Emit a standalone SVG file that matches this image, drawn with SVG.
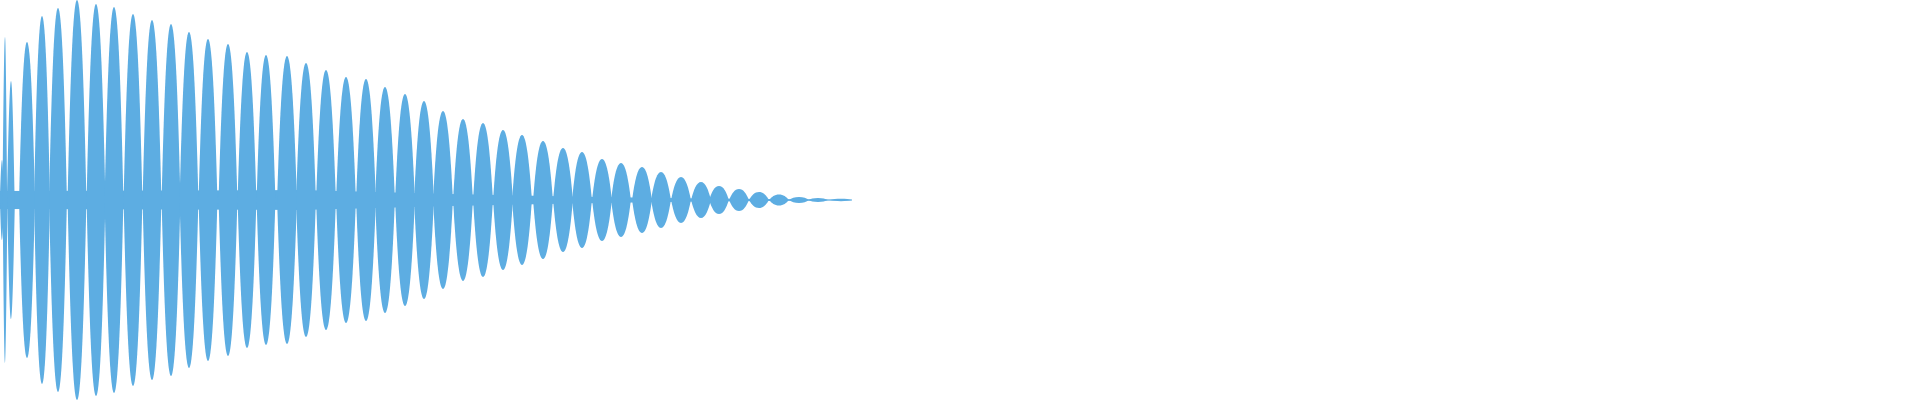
<svg xmlns="http://www.w3.org/2000/svg" width="1920" height="400" viewBox="0 0 1920 400">
<style>.w{fill:#5DADE2;stroke:none}</style>
<defs>
<path id="L" d="M-9.9,0 C-7.4,-0.56 -4.4,-1 0,-1 C4.4,-1 7.4,-0.56 9.9,0 C7.4,0.56 4.4,1 0,1 C-4.4,1 -7.4,0.56 -9.9,0Z"/>
<path id="N" d="M-3,0 C-2,-0.525 -1.1,-1 0,-1 C1.1,-1 2,-0.525 3,0 C2,0.525 1.1,1 0,1 C-1.1,1 -2,0.525 -3,0Z"/>
</defs>
<rect width="1920" height="400" fill="#ffffff"/>
<g id="waveform" class="w">
<polygon points="0,191 300,190 450,194 600,197 700,198.5 852,199.6 852,200.4 700,201.5 600,203 450,206 300,210 0,209"/>
<use href="#N" transform="translate(2,200) scale(0.7,40)"/>
<use href="#N" transform="translate(5,200) scale(0.8,163)"/>
<use href="#N" transform="translate(11,200) scale(1.3,119)"/>
<use href="#L" transform="translate(27,200) scale(0.8,158)"/>
<use href="#L" transform="translate(42,200) scale(0.8,184)"/>
<use href="#L" transform="translate(58,200) scale(0.9,192)"/>
<use href="#L" transform="translate(77,200) scale(0.95,200)"/>
<use href="#L" transform="translate(96,200) scale(0.95,196)"/>
<use href="#L" transform="translate(114,200) scale(0.95,193)"/>
<use href="#L" transform="translate(133,200) scale(0.95,186)"/>
<use href="#L" transform="translate(152,200) scale(0.95,180)"/>
<use href="#L" transform="translate(171,200) scale(0.95,176)"/>
<use href="#L" transform="translate(189,200) scale(0.95,168)"/>
<use href="#L" transform="translate(208,200) scale(0.95,161)"/>
<use href="#L" transform="translate(228,200) scale(0.95,156)"/>
<use href="#L" transform="translate(247,200) scale(0.95,148)"/>
<use href="#L" transform="translate(266,200) scale(0.95,145)"/>
<use href="#L" transform="translate(287,200) scale(1,144)"/>
<use href="#L" transform="translate(306,200) scale(1,137)"/>
<use href="#L" transform="translate(326,200) scale(1,130)"/>
<use href="#L" transform="translate(346,200) scale(1,123)"/>
<use href="#L" transform="translate(366,200) scale(1,121)"/>
<use href="#L" transform="translate(385,200) scale(1,113)"/>
<use href="#L" transform="translate(405,200) scale(1,106)"/>
<use href="#L" transform="translate(424,200) scale(1,99)"/>
<use href="#L" transform="translate(443,200) scale(1,89)"/>
<use href="#L" transform="translate(463,200) scale(1,81)"/>
<use href="#L" transform="translate(483,200) scale(1,77)"/>
<use href="#L" transform="translate(503,200) scale(1,70)"/>
<use href="#L" transform="translate(522,200) scale(1,65)"/>
<use href="#L" transform="translate(543,200) scale(1,59)"/>
<use href="#L" transform="translate(563,200) scale(1,52)"/>
<use href="#L" transform="translate(582,200) scale(1,48)"/>
<use href="#L" transform="translate(602,200) scale(1,41)"/>
<use href="#L" transform="translate(621,200) scale(1,37)"/>
<use href="#L" transform="translate(642,200) scale(1,33)"/>
<use href="#L" transform="translate(661,200) scale(1,28)"/>
<use href="#L" transform="translate(681,200) scale(1,23)"/>
<use href="#L" transform="translate(701,200) scale(1,18)"/>
<use href="#L" transform="translate(719,200) scale(1,14)"/>
<use href="#L" transform="translate(739,200) scale(1,11)"/>
<use href="#L" transform="translate(759,200) scale(1,8)"/>
<use href="#L" transform="translate(779,200) scale(1,5.5)"/>
<use href="#L" transform="translate(799,200) scale(1,3)"/>
<use href="#L" transform="translate(818,200) scale(1,2)"/>
<use href="#L" transform="translate(841,200) scale(1.1,1.2)"/>
</g>
</svg>
